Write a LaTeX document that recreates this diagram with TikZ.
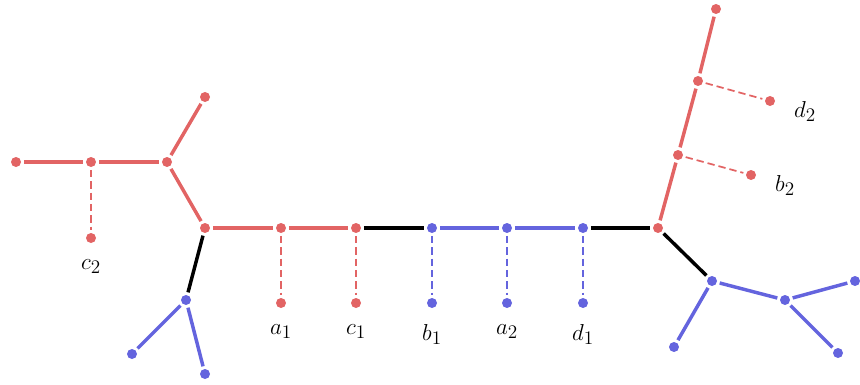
\documentclass[tikz,border=0pt]{standalone}
\usetikzlibrary{positioning}
\definecolor{treered}{RGB}{226,100,100}
\definecolor{treeblue}{RGB}{100,100,222}
\begin{document}
\begin{tikzpicture}[x=0.75pt, y=-0.75pt,
    rdot/.style={circle, fill=treered, inner sep=0pt, minimum size=7.5pt, outer sep=2.2pt},
    bdot/.style={circle, fill=treeblue, inner sep=0pt, minimum size=7.5pt, outer sep=2.2pt},
    redge/.style={draw=treered, line width=2.6pt},
    bedge/.style={draw=treeblue, line width=2.6pt},
    kedge/.style={draw=black, line width=2.6pt},
    rleaf/.style={draw=treered, line width=1.3pt, dash pattern=on 5.5pt off 3pt},
    bleaf/.style={draw=treeblue, line width=1.3pt, dash pattern=on 5.5pt off 3pt},
    lbl/.style={font=\fontsize{19}{22}\selectfont, inner sep=0pt}
]
    \useasboundingbox (0,0) rectangle (860,385);

    % left red part
    \node[rdot] (l1) at (16,162) {};
    \node[rdot] (l2) at (91,162) {};
    \node[rdot] (l3) at (167,162) {};
    \node[rdot] (l4) at (205,97) {};
    \node[rdot] (l5) at (205,228) {};
    \node[rdot] (c2) at (91,238) {};
    \node[lbl, below=10pt of c2] (tc2) {$c_2$};

    % left blue part
    \node[bdot] (lb1) at (186,300) {};
    \node[bdot] (lb2) at (132,354) {};
    \node[bdot] (lb3) at (205,374) {};

    % spine
    \node[rdot] (s1) at (281,228) {};
    \node[rdot] (s2) at (356,228) {};
    \node[bdot] (s3) at (432,228) {};
    \node[bdot] (s4) at (507,228) {};
    \node[bdot] (s5) at (583,228) {};
    \node[rdot] (r0) at (658,228) {};

    % leaves under the spine
    \node[rdot] (a1) at (281,303) {};
    \node[rdot] (c1) at (356,303) {};
    \node[bdot] (b1) at (432,303) {};
    \node[bdot] (a2) at (507,303) {};
    \node[bdot] (d1) at (583,303) {};
    \node[lbl, below=10pt of a1] (ta1) {$a_1$};
    \node[lbl, below=10pt of c1] (tc1) {$c_1$};
    \node[lbl, below=10pt of b1] (tb1) {$b_1$};
    \node[lbl, below=10pt of a2] (ta2) {$a_2$};
    \node[lbl, below=10pt of d1] (td1) {$d_1$};

    % right red part
    \node[rdot] (r1) at (678,155) {};
    \node[rdot] (r2) at (698,81) {};
    \node[rdot] (r3) at (716,9) {};
    \node[rdot] (b2) at (751,175) {};
    \node[rdot] (d2) at (770,101) {};
    \node[lbl, right=12pt of b2, yshift=-8pt] (tb2) {$b_2$};
    \node[lbl, right=12pt of d2, yshift=-8pt] (td2) {$d_2$};

    % right blue part
    \node[bdot] (rb1) at (712,281) {};
    \node[bdot] (rb2) at (674,347) {};
    \node[bdot] (rb3) at (785,300) {};
    \node[bdot] (rb4) at (855,281) {};
    \node[bdot] (rb5) at (838,353) {};

    \draw[redge] (l1) -- (l2);
    \draw[redge] (l2) -- (l3);
    \draw[redge] (l3) -- (l4);
    \draw[redge] (l3) -- (l5);
    \draw[rleaf] (l2) -- (c2);
    \draw[kedge] (l5) -- (lb1);
    \draw[bedge] (lb1) -- (lb2);
    \draw[bedge] (lb1) -- (lb3);

    \draw[redge] (l5) -- (s1);
    \draw[redge] (s1) -- (s2);
    \draw[kedge] (s2) -- (s3);
    \draw[bedge] (s3) -- (s4);
    \draw[bedge] (s4) -- (s5);
    \draw[kedge] (s5) -- (r0);
    \draw[rleaf] (s1) -- (a1);
    \draw[rleaf] (s2) -- (c1);
    \draw[bleaf] (s3) -- (b1);
    \draw[bleaf] (s4) -- (a2);
    \draw[bleaf] (s5) -- (d1);

    \draw[redge] (r0) -- (r1);
    \draw[redge] (r1) -- (r2);
    \draw[redge] (r2) -- (r3);
    \draw[rleaf] (r1) -- (b2);
    \draw[rleaf] (r2) -- (d2);
    \draw[kedge] (r0) -- (rb1);
    \draw[bedge] (rb1) -- (rb2);
    \draw[bedge] (rb1) -- (rb3);
    \draw[bedge] (rb3) -- (rb4);
    \draw[bedge] (rb3) -- (rb5);
\end{tikzpicture}
\end{document}
